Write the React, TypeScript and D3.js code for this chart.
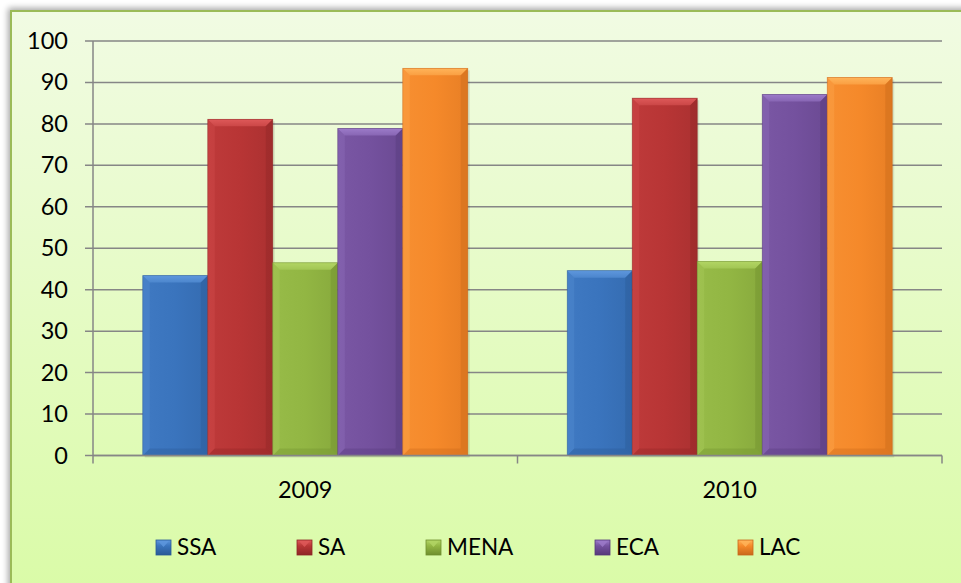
import React from "react";
import * as d3 from "d3";

const categories = ["2009", "2010"];
const series = ["SSA", "SA", "MENA", "ECA", "LAC"];
const values2009 = [43.4, 81.1, 46.5, 78.9, 93.4];
const values2010 = [44.6, 86.2, 46.8, 87.1, 91.2];
const yTicks = [0, 10, 20, 30, 40, 50, 60, 70, 80, 90, 100];

const seriesValues = [values2009, values2010];

const baseColors = ["#3A74BD", "#B83535", "#92B643", "#74519E", "#F5892A"];
const lightColors = ["#5E97DD", "#DE5959", "#B2D564", "#9C7BC9", "#FFB45A"];
const darkColors = ["#2A5A96", "#8E2626", "#6F8E2E", "#56397A", "#C9681A"];

const legendX = [156, 297, 426, 595, 738];

const W = 961;
const H = 583;
const plot = { left: 93, right: 942, top: 41, bottom: 455.5 };
const FONT = "Lato, 'Open Sans', sans-serif";

function Bar({ x, y, w, h, i }: { x: number; y: number; w: number; h: number; i: number }) {
  const b = Math.min(7, h / 2);
  const light = lightColors[i];
  const dark = darkColors[i];
  return (
    <g>
      <rect x={x + 2} y={y + 2} width={w} height={h} fill="#000" opacity={0.1} />
      <rect x={x} y={y} width={w} height={h} fill={`url(#grad${i})`} />
      <polygon
        points={`${x},${y} ${x + w},${y} ${x + w - b},${y + b} ${x + b},${y + b}`}
        fill={`url(#top${i})`}
      />
      <polygon
        points={`${x},${y} ${x + b},${y + b} ${x + b},${y + h - b} ${x},${y + h}`}
        fill={light}
        opacity={0.25}
      />
      <polygon
        points={`${x + w},${y} ${x + w - b},${y + b} ${x + w - b},${y + h - b} ${x + w},${y + h}`}
        fill={dark}
        opacity={0.4}
      />
      <polygon
        points={`${x},${y + h} ${x + b},${y + h - b} ${x + w - b},${y + h - b} ${x + w},${y + h}`}
        fill={dark}
        opacity={0.35}
      />
      <rect x={x} y={y} width={w} height={h} fill="none" stroke={dark} strokeWidth={0.8} opacity={0.6} />
    </g>
  );
}

export default function App() {
  const x0 = d3.scaleBand<string>().domain(categories).range([plot.left, plot.right]).paddingInner(0).paddingOuter(0);
  const bw = x0.bandwidth();
  const gap = (bw * (1 - 0.7656)) / 2;
  const x1 = d3.scaleBand<string>().domain(series).range([gap, bw - gap]).padding(0);
  const y = d3.scaleLinear().domain([0, 100]).range([plot.bottom, plot.top]);

  const xTickPositions = [plot.left, ...categories.map((c) => (x0(c) as number) + bw)];

  return (
    <svg
      width={W}
      height={H}
      style={{ position: "absolute", left: 0, top: 0, display: "block" }}
      fontFamily={FONT}
    >
      <defs>
        <linearGradient id="bg" x1="0" y1="0" x2="0" y2="1">
          <stop offset="0" stopColor="#F1FBE3" />
          <stop offset="1" stopColor="#D9FBA5" />
        </linearGradient>
        <filter id="shadow" x="-5%" y="-5%" width="110%" height="110%">
          <feGaussianBlur in="SourceAlpha" stdDeviation="3" />
          <feOffset dx="-2" dy="-2" result="off" />
          <feComponentTransfer>
            <feFuncA type="linear" slope="0.35" />
          </feComponentTransfer>
          <feMerge>
            <feMergeNode />
            <feMergeNode in="SourceGraphic" />
          </feMerge>
        </filter>
        {series.map((s, i) => (
          <linearGradient key={`g${s}`} id={`grad${i}`} x1="0" y1="0" x2="1" y2="0">
            <stop offset="0" stopColor={d3.interpolateRgb(baseColors[i], lightColors[i])(0.15)} />
            <stop offset="0.5" stopColor={baseColors[i]} />
            <stop offset="1" stopColor={d3.interpolateRgb(baseColors[i], darkColors[i])(0.3)} />
          </linearGradient>
        ))}
        {series.map((s, i) => (
          <linearGradient key={`t${s}`} id={`top${i}`} x1="0" y1="0" x2="0" y2="1">
            <stop offset="0" stopColor={lightColors[i]} />
            <stop offset="1" stopColor={d3.interpolateRgb(lightColors[i], baseColors[i])(0.5)} />
          </linearGradient>
        ))}
        {series.map((s, i) => (
          <linearGradient key={`l${s}`} id={`leg${i}`} x1="0" y1="0" x2="0" y2="1">
            <stop offset="0" stopColor={lightColors[i]} />
            <stop offset="0.4" stopColor={baseColors[i]} />
            <stop offset="1" stopColor={darkColors[i]} />
          </linearGradient>
        ))}
      </defs>

      <rect x={0} y={0} width={W} height={H} fill="#FFFFFF" />
      <rect
        x={11}
        y={11}
        width={W + 20}
        height={H + 20}
        fill="url(#bg)"
        stroke="#9BBB59"
        strokeWidth={2}
        filter="url(#shadow)"
      />

      {yTicks.map((t) => (
        <g key={`yt${t}`}>
          <line
            x1={plot.left - 8}
            x2={plot.right}
            y1={y(t)}
            y2={y(t)}
            stroke="#868686"
            strokeWidth={1.5}
          />
          <text x={68} y={y(t) + 8} textAnchor="end" fontSize={23.5} fill="#000">
            {t}
          </text>
        </g>
      ))}
      <line x1={plot.left} x2={plot.left} y1={plot.top} y2={plot.bottom} stroke="#868686" strokeWidth={1.5} />

      {categories.map((c, ci) =>
        series.map((s, si) => {
          const v = seriesValues[ci][si];
          const bx = (x0(c) as number) + (x1(s) as number);
          const by = y(v);
          return <Bar key={`${c}-${s}`} x={bx} y={by} w={x1.bandwidth()} h={plot.bottom - by} i={si} />;
        })
      )}

      <line x1={plot.left} x2={plot.right} y1={plot.bottom} y2={plot.bottom} stroke="#868686" strokeWidth={1.5} />
      {xTickPositions.map((xp, i) => (
        <line key={`xt${i}`} x1={xp} x2={xp} y1={plot.bottom} y2={plot.bottom + 8} stroke="#868686" strokeWidth={1.5} />
      ))}
      {categories.map((c) => (
        <text key={`xl${c}`} x={(x0(c) as number) + bw / 2} y={498} textAnchor="middle" fontSize={23.5} fill="#000">
          {c}
        </text>
      ))}

      {series.map((s, i) => (
        <g key={`lg${s}`}>
          <rect x={legendX[i]} y={540} width={15} height={15} fill={`url(#leg${i})`} stroke={darkColors[i]} strokeWidth={0.8} />
          <polygon
            points={`${legendX[i] + 2},${541} ${legendX[i] + 13},${541} ${legendX[i] + 7.5},${547}`}
            fill={lightColors[i]}
            opacity={0.8}
          />
          <text x={legendX[i] + 21} y={555} fontSize={22.5} fill="#000">
            {s}
          </text>
        </g>
      ))}
    </svg>
  );
}
